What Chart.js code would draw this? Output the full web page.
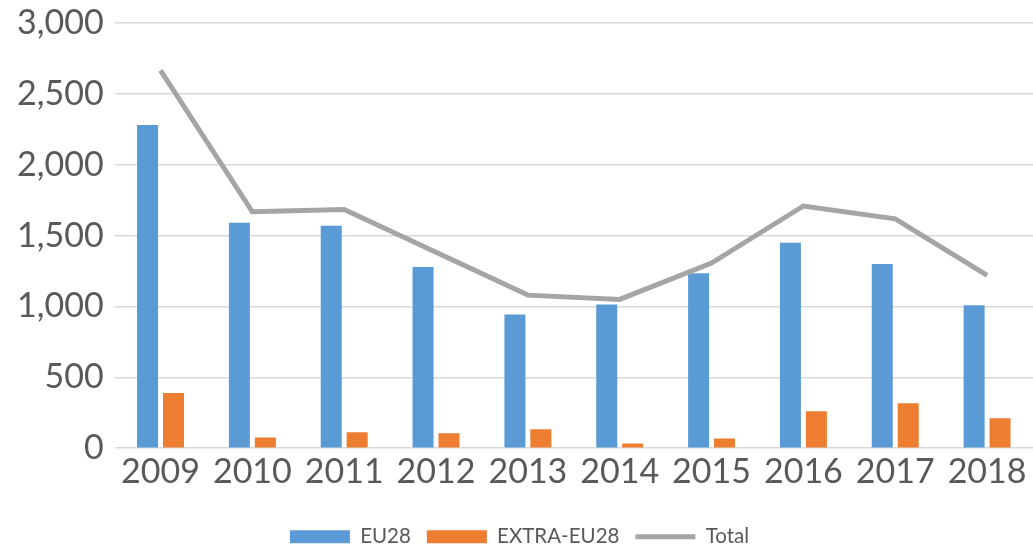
<!DOCTYPE html>
<html>
<head>
<meta charset="utf-8">
<script src="https://cdn.jsdelivr.net/npm/chart.js@4/dist/chart.umd.min.js"></script>
<style>
  html, body { margin: 0; padding: 0; background: #fff; }
  .chart-box { width: 1033px; height: 547px; position: relative; }
</style>
</head>
<body>
<div class="chart-box"><canvas id="chart"></canvas></div>
<script>
const years     = ['2009', '2010', '2011', '2012', '2013', '2014', '2015', '2016', '2017', '2018'];
const eu28      = [2280, 1590, 1570, 1278, 943, 1014, 1235, 1449, 1300, 1008];
const extraEu28 = [390, 76, 112, 105, 133, 33, 69, 261, 318, 211];
const total     = [2665, 1668, 1684, 1383, 1080, 1050, 1306, 1709, 1618, 1220];
const yTicks    = [0, 500, 1000, 1500, 2000, 2500, 3000];

const TEXT = '#595959';
const GRID = '#d9d9d9';

new Chart(document.getElementById('chart'), {
  type: 'bar',
  data: {
    labels: years,
    datasets: [
      {
        label: 'EU28',
        data: eu28,
        backgroundColor: '#5B9BD5',
        pointStyle: 'rect',
        barPercentage: 0.81,
        categoryPercentage: 0.565,
      },
      {
        label: 'EXTRA-EU28',
        data: extraEu28,
        backgroundColor: '#ED7D31',
        pointStyle: 'rect',
        barPercentage: 0.81,
        categoryPercentage: 0.565,
      },
      {
        type: 'line',
        label: 'Total',
        data: total,
        borderColor: '#A5A5A5',
        backgroundColor: '#A5A5A5',
        borderWidth: 5,
        pointRadius: 0,
        pointHoverRadius: 0,
        pointStyle: 'line',
        tension: 0,
        order: -1,   // draw on top of the bars
      },
    ],
  },
  options: {
    responsive: true,
    maintainAspectRatio: false,
    animation: false,
    layout: { padding: { top: 23, right: 0, left: 6, bottom: -10 } },
    plugins: {
      tooltip: { enabled: false },
      legend: {
        position: 'bottom',
        labels: {
          color: TEXT,
          font: { family: 'Lato', size: 20.5 },
          usePointStyle: true,
          pointStyleWidth: 60,
          boxHeight: 13,
          padding: 16,
          sort: (a, b) => a.datasetIndex - b.datasetIndex,
        },
      },
    },
    scales: {
      x: {
        grid: { display: false },
        border: { display: false },
        ticks: { color: TEXT, font: { family: 'Lato', size: 34 }, padding: -5 },
        afterFit: axis => { axis.height += 23.5; },
      },
      y: {
        min: 0,
        max: 3000,
        afterBuildTicks: axis => { axis.ticks = yTicks.map(v => ({ value: v })); },
        // let the top label overhang into the layout padding
        afterFit: axis => { axis.paddingTop = 0; },
        grid: { color: GRID, lineWidth: 1.5, drawTicks: false },
        border: { display: false },
        ticks: {
          color: TEXT,
          font: { family: 'Lato', size: 34 },
          padding: 11,
          callback: v => v.toLocaleString('en-US'),
        },
      },
    },
  },
});
</script>
</body>
</html>
